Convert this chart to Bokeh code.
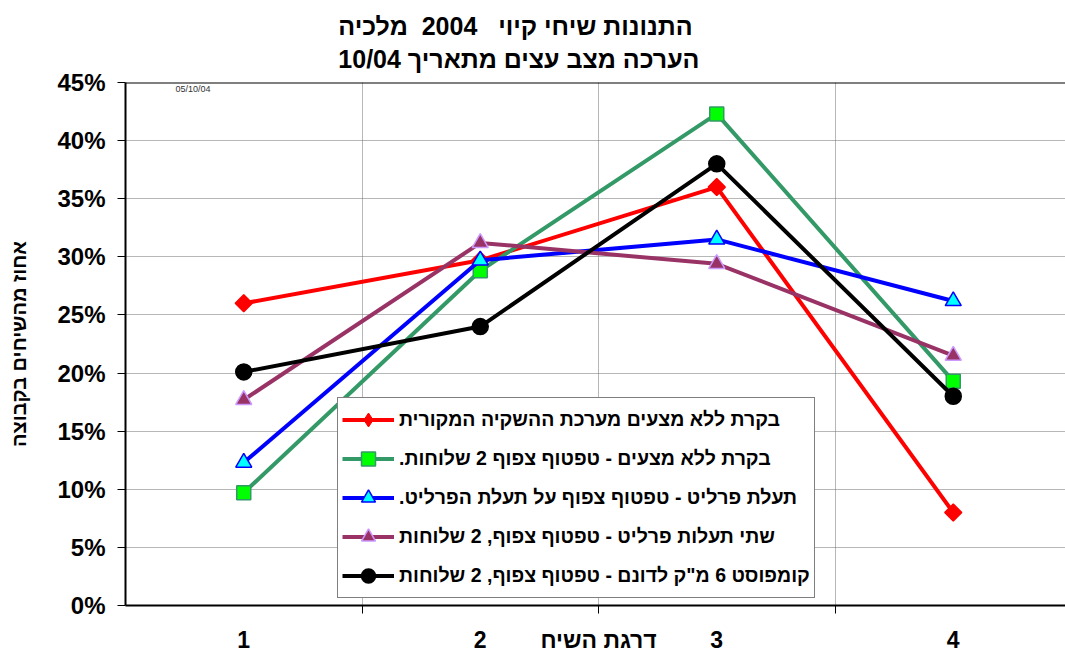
from bokeh.plotting import figure
from bokeh.models import (FixedTicker, NumeralTickFormatter, Span, Label,
                          ColumnDataSource, Legend, LegendItem, Range1d)
from bokeh.embed import file_html
from bokeh.resources import INLINE

RLM = "\u200f"
NB = "\u00a0"

# ---- data ----
categories = ["1", "2", "3", "4"]
x_pos = [1, 2, 3, 4]
series_names = [
    "בקרת ללא מצעים מערכת ההשקיה המקורית",
    "בקרת ללא מצעים - טפטוף צפוף 2 שלוחות." + RLM,
    "תעלת פרליט - טפטוף צפוף על תעלת הפרליט." + RLM,
    "שתי תעלות פרליט - טפטוף צפוף, 2 שלוחות",
    "קומפוסט 6 מ\"ק לדונם - טפטוף צפוף, 2 שלוחות",
]
red_vals = [0.260, 0.297, 0.360, 0.080]
green_vals = [0.097, 0.288, 0.423, 0.193]
blue_vals = [0.123, 0.297, 0.315, 0.262]
purple_vals = [0.177, 0.312, 0.294, 0.215]
black_vals = [0.201, 0.240, 0.380, 0.180]
y_ticks = [0.0, 0.05, 0.10, 0.15, 0.20, 0.25, 0.30, 0.35, 0.40, 0.45]
boundaries = [1.5, 2.5, 3.5]

title_line1 = "התנונות שיחי קיוי " + NB + NB + "2004 " + NB + "מלכיה"
title_line2 = "הערכה מצב עצים מתאריך 10/04"
x_title = "דרגת השיח"
x_title_pos = 2.5
y_title = "אחוז מהשיחים בקבוצה"
date_stamp = "05/10/04"

FONT = "Liberation Sans"

p = figure(width=1065, height=655,
           x_range=Range1d(0.5, 4.4746), y_range=Range1d(0, 0.45),
           output_backend="svg", toolbar_location=None,
           min_border_left=125, min_border_right=0,
           min_border_top=82, min_border_bottom=49)
p.outline_line_color = None
p.background_fill_color = "white"
p.border_fill_color = "white"

# title (two lines, right-aligned like the Hebrew original)
p.title.text = title_line1 + "\n" + title_line2
p.title.align = "right"
p.title.offset = 366
p.title.text_font = FONT
p.title.text_font_size = "25px"
p.title.text_font_style = "bold"
p.title.text_color = "black"
p.title.text_line_height = 1.2
p.title.standoff = 18

# y axis
p.yaxis.ticker = FixedTicker(ticks=y_ticks)
p.yaxis.formatter = NumeralTickFormatter(format="0%")
p.yaxis.major_label_text_font = FONT
p.yaxis.major_label_text_font_size = "24px"
p.yaxis.major_label_text_font_style = "bold"
p.yaxis.major_label_text_color = "black"
p.yaxis.major_tick_out = 8
p.yaxis.major_tick_in = 0
p.yaxis.minor_tick_line_color = None
p.yaxis.major_label_standoff = 12
p.yaxis.axis_line_width = 2
p.yaxis.axis_line_color = "black"
p.yaxis.major_tick_line_color = "black"
p.yaxis.axis_label = y_title
p.yaxis.axis_label_text_font = FONT
p.yaxis.axis_label_text_font_size = "20px"
p.yaxis.axis_label_text_font_style = "bold"
p.yaxis.axis_label_text_color = "black"
p.yaxis.axis_label_standoff = 24

# x axis: category labels at centres (plus the axis title on the same line),
# category boundaries as minor ticks
overrides = {x: c for x, c in zip(x_pos, categories)}
overrides[x_title_pos] = x_title
xticker = FixedTicker(ticks=sorted(list(x_pos) + [x_title_pos]), minor_ticks=boundaries)
p.xaxis.ticker = xticker
p.xaxis.major_label_overrides = overrides
p.xaxis.major_tick_line_color = None
p.xaxis.major_tick_out = 0
p.xaxis.major_tick_in = 0
p.xaxis.major_label_standoff = 13
p.xaxis.major_label_text_font = FONT
p.xaxis.major_label_text_font_size = "23px"
p.xaxis.major_label_text_font_style = "bold"
p.xaxis.major_label_text_color = "black"
p.xaxis.minor_tick_out = 8
p.xaxis.minor_tick_in = 0
p.xaxis.minor_tick_line_color = "black"
p.xaxis.axis_line_width = 2
p.xaxis.axis_line_color = "black"

# grids
p.ygrid.ticker = FixedTicker(ticks=y_ticks)
p.ygrid.grid_line_color = "#6e6e6e"
p.ygrid.grid_line_dash = "1 1"
p.xgrid.ticker = FixedTicker(ticks=[], minor_ticks=boundaries)
p.xgrid.grid_line_color = None
p.xgrid.minor_grid_line_color = "#6e6e6e"
p.xgrid.minor_grid_line_dash = "1 1"

p.add_layout(Span(location=0.45, dimension="width", line_color="black", line_width=2))

p.add_layout(Label(x=0.711, y=0.45, y_offset=-1, text=date_stamp, text_align="left",
                   text_baseline="top", text_font=FONT,
                   text_font_size="9px", text_color="#333333"))

styles = [
    dict(line="#FF0000", marker="square", angle=0.785398, size=12, fill="#FF0000", edge="#FF0000",
         legend_marker="diamond"),
    dict(line="#339966", marker="square", angle=0.0, size=14, fill="#00FF00", edge="#339966",
         legend_marker=None),
    dict(line="#0000FF", marker="triangle", angle=0.0, size=16, fill="#00FFFF", edge="#0000FF",
         legend_marker=None),
    dict(line="#993366", marker="triangle", angle=0.0, size=16, fill="#993366", edge="#CC99FF",
         legend_marker=None),
    dict(line="#000000", marker="circle", angle=0.0, size=16, fill="#000000", edge="#000000",
         legend_marker=None),
]
all_vals = [red_vals, green_vals, blue_vals, purple_vals, black_vals]

items = []
for name, vals, st in zip(series_names, all_vals, styles):
    src = ColumnDataSource(dict(x=x_pos, y=vals))
    ln = p.line("x", "y", source=src, line_color=st["line"], line_width=4)
    sc = p.scatter("x", "y", source=src, marker=st["marker"], angle=st["angle"],
                   size=st["size"], fill_color=st["fill"], line_color=st["edge"],
                   line_width=1.5)
    rends = [ln, sc]
    if st["legend_marker"]:
        # legend-only swatch (Bokeh's legend does not rotate markers)
        lg = p.scatter("x", "y", source=src, marker=st["legend_marker"],
                       size=st["size"], fill_color=st["fill"], line_color=st["edge"],
                       visible=False)
        rends = [ln, lg]
    items.append(LegendItem(label=name, renderers=rends))

legend = Legend(items=items, location=(212, 7),
                label_text_font=FONT, label_text_font_size="19.5px",
                label_text_font_style="bold", label_text_color="black",
                glyph_width=52, glyph_height=35, label_height=35,
                label_standoff=5, spacing=4, padding=4,
                border_line_color="black", border_line_width=1,
                background_fill_color="white", background_fill_alpha=1.0)
p.add_layout(legend)

open("out.html", "w").write(file_html(p, INLINE))
